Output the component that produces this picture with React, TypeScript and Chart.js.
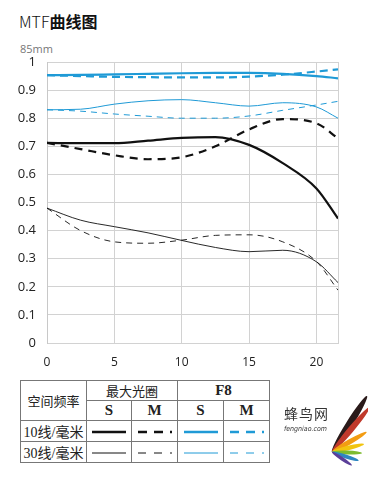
import React, { useEffect, useRef } from "react";
import { Chart, registerables } from "chart.js";

Chart.register(...registerables);

// Image height (mm) positions
const fieldPositions = [0, 2.5, 5, 7.5, 10, 12.5, 15, 17.5, 20, 21.6];

// Max aperture (black)
const maxS10 = [0.712, 0.711, 0.711, 0.72, 0.73, 0.733, 0.705, 0.64, 0.55, 0.443];
const maxM10 = [0.712, 0.69, 0.668, 0.654, 0.661, 0.7, 0.76, 0.797, 0.782, 0.728];
const maxS30 = [0.48, 0.437, 0.414, 0.392, 0.365, 0.34, 0.325, 0.33, 0.289, 0.215];
const maxM30 = [0.48, 0.4, 0.36, 0.355, 0.366, 0.383, 0.385, 0.36, 0.29, 0.188];

// F8 (blue)
const f8S10 = [0.953, 0.954, 0.956, 0.958, 0.96, 0.961, 0.961, 0.958, 0.95, 0.942];
const f8M10 = [0.953, 0.95, 0.947, 0.946, 0.945, 0.945, 0.948, 0.955, 0.966, 0.974];
const f8S30 = [0.83, 0.832, 0.85, 0.862, 0.866, 0.855, 0.843, 0.855, 0.84, 0.8];
const f8M30 = [0.83, 0.825, 0.815, 0.807, 0.8, 0.8, 0.808, 0.828, 0.847, 0.86];

const xTickValues = [0, 5, 10, 15, 20];
const yTickValues = [0, 0.1, 0.2, 0.3, 0.4, 0.5, 0.6, 0.7, 0.8, 0.9, 1];
const yTickLabels = ["0", "0.1", "0.2", "0.3", "0.4", "0.5", "0.6", "0.7", "0.8", "0.9", "1"];
const yMin = 0;
const yMax = 1;
const xMax = 21.6;

const BLACK = "#111111";
const BLUE = "#1f9ad6";

function pts(ys: number[]) {
  return fieldPositions.map((x, i) => ({ x, y: ys[i] }));
}

function MtfChart() {
  const ref = useRef<HTMLCanvasElement | null>(null);
  useEffect(() => {
    if (!ref.current) return;
    const mk = (label: string, data: number[], color: string, width: number, dash: number[]) => ({
      label,
      data: pts(data),
      borderColor: color,
      backgroundColor: color,
      borderWidth: width,
      borderDash: dash,
      pointRadius: 0,
      cubicInterpolationMode: "monotone" as const,
      fill: false,
    });
    const chart = new Chart(ref.current, {
      type: "line",
      data: {
        datasets: [
          mk("F8 M 30", f8M30, BLUE, 1, [6, 5]),
          mk("F8 S 30", f8S30, BLUE, 1, []),
          mk("F8 M 10", f8M10, BLUE, 2.2, [8, 5]),
          mk("F8 S 10", f8S10, BLUE, 2.2, []),
          mk("Max M 30", maxM30, BLACK, 0.9, [6, 5]),
          mk("Max S 30", maxS30, BLACK, 0.9, []),
          mk("Max M 10", maxM10, BLACK, 2.2, [8, 6]),
          mk("Max S 10", maxS10, BLACK, 2.2, []),
        ],
      },
      options: {
        responsive: false,
        animation: false,
        layout: { padding: { left: 0, top: 62, right: 30, bottom: 0 } },
        plugins: { legend: { display: false }, tooltip: { enabled: false }, title: { display: false } },
        scales: {
          x: {
            type: "linear",
            min: 0,
            max: xMax,
            afterFit: (s: any) => {
              s.height = 32;
            },
            afterBuildTicks: (s: any) => {
              s.ticks = [...xTickValues, xMax].map((v) => ({ value: v }));
            },
            ticks: {
              autoSkip: false,
              maxRotation: 0,
              padding: 12,
              color: "#222",
              font: { family: "Open Sans", size: 12 },
              callback: (v: any) => (xTickValues.includes(Number(v)) ? String(v) : ""),
            },
            grid: { color: "#d2d2d2", lineWidth: 1, drawTicks: false },
            border: { display: true, color: "#d2d2d2" },
          },
          y: {
            min: yMin,
            max: yMax,
            afterFit: (s: any) => {
              s.width = 47;
            },
            afterBuildTicks: (s: any) => {
              s.ticks = yTickValues.map((v) => ({ value: v }));
            },
            ticks: {
              autoSkip: false,
              padding: 11,
              color: "#222",
              font: { family: "Open Sans", size: 13 },
              callback: (v: any) => {
                const i = yTickValues.findIndex((t) => Math.abs(t - Number(v)) < 1e-6);
                return i >= 0 ? yTickLabels[i] : "";
              },
            },
            grid: { color: "#d2d2d2", lineWidth: 1, drawTicks: false },
            border: { display: true, color: "#c8c8c8" },
          },
        },
      },
    });
    return () => chart.destroy();
  }, []);
  return (
    <canvas
      ref={ref}
      width={368}
      height={375}
      style={{ position: "absolute", left: 0, top: 0, width: 368, height: 375 }}
    />
  );
}

function Sample({ color, width, dash }: { color: string; width: number; dash?: string }) {
  return (
    <svg width={34} height={6} style={{ display: "block", margin: "2px auto 0" }}>
      <line x1={0} y1={3} x2={34} y2={3} stroke={color} strokeWidth={width} strokeDasharray={dash} />
    </svg>
  );
}

function LegendTable() {
  const cell: React.CSSProperties = {
    border: "1px solid #777",
    padding: 0,
    textAlign: "center",
    verticalAlign: "middle",
    fontFamily: "'Liberation Serif', 'Noto Sans CJK SC', serif",
    fontSize: 13,
    color: "#222",
  };
  const latin: React.CSSProperties = { ...cell, fontSize: 15, fontWeight: 700 };
  return (
    <table
      style={{
        position: "absolute",
        left: 20,
        top: 380,
        width: 249,
        borderCollapse: "collapse",
        tableLayout: "fixed",
      }}
    >
      <colgroup>
        <col style={{ width: 66 }} />
        <col style={{ width: 45 }} />
        <col style={{ width: 46 }} />
        <col style={{ width: 46 }} />
        <col style={{ width: 46 }} />
      </colgroup>
      <tbody>
        <tr style={{ height: 20 }}>
          <td style={cell} rowSpan={2}>空间频率</td>
          <td style={cell} colSpan={2}>最大光圈</td>
          <td style={latin} colSpan={2}>F8</td>
        </tr>
        <tr style={{ height: 20 }}>
          <td style={latin}>S</td>
          <td style={latin}>M</td>
          <td style={latin}>S</td>
          <td style={latin}>M</td>
        </tr>
        <tr style={{ height: 20 }}>
          <td style={{ ...cell, fontSize: 14 }}>10线/毫米</td>
          <td style={cell}><Sample color={BLACK} width={2.5} /></td>
          <td style={cell}><Sample color={BLACK} width={2.5} dash="9 7" /></td>
          <td style={cell}><Sample color={BLUE} width={2.5} /></td>
          <td style={cell}><Sample color={BLUE} width={2.5} dash="9 7" /></td>
        </tr>
        <tr style={{ height: 20 }}>
          <td style={{ ...cell, fontSize: 14 }}>30线/毫米</td>
          <td style={cell}><Sample color={BLACK} width={1} /></td>
          <td style={cell}><Sample color={BLACK} width={1} dash="8 8" /></td>
          <td style={cell}><Sample color={BLUE} width={1} /></td>
          <td style={cell}><Sample color={BLUE} width={1} dash="8 8" /></td>
        </tr>
      </tbody>
    </table>
  );
}

function Logo() {
  const feathers = [
    { color: "#2a1a1a", len: 66, angle: -58, w: 7 },
    { color: "#c0392b", len: 58, angle: -50, w: 6 },
    { color: "#f39c12", len: 40, angle: -30, w: 5 },
    { color: "#f1c40f", len: 33, angle: -14, w: 4.5 },
    { color: "#7dbb2f", len: 30, angle: 2, w: 4 },
    { color: "#2e86c1", len: 28, angle: 18, w: 4 },
    { color: "#5b3f99", len: 24, angle: 34, w: 3.5 },
  ];
  const px = 332;
  const py = 452;
  return (
    <div style={{ position: "absolute", left: 0, top: 0, width: 368, height: 477, pointerEvents: "none" }}>
      <svg width={368} height={477} style={{ position: "absolute", left: 0, top: 0 }}>
        {feathers.map((f, i) => (
          <ellipse
            key={i}
            cx={px + f.len / 2}
            cy={py}
            rx={f.len / 2}
            ry={f.w / 2}
            fill={f.color}
            transform={`rotate(${f.angle} ${px} ${py})`}
          />
        ))}
      </svg>
      <div
        style={{
          position: "absolute",
          left: 284,
          top: 404,
          fontFamily: "'Noto Sans CJK SC', sans-serif",
          fontSize: 14,
          lineHeight: "18px",
          color: "#333",
          letterSpacing: 1,
        }}
      >
        蜂鸟网
      </div>
      <div
        style={{
          position: "absolute",
          left: 284,
          top: 425,
          fontFamily: "'DejaVu Sans Condensed', sans-serif",
          fontSize: 7,
          lineHeight: "9px",
          fontStyle: "italic",
          color: "#333",
        }}
      >
        fengniao.com
      </div>
    </div>
  );
}

export default function App() {
  return (
    <div style={{ position: "absolute", left: 0, top: 0, width: 368, height: 477, background: "#fff", overflow: "hidden" }}>
      <div
        style={{
          position: "absolute",
          left: 19,
          top: 11,
          fontSize: 16,
          lineHeight: "20px",
          color: "#111",
          fontFamily: "'Noto Sans CJK SC', 'Open Sans', sans-serif",
          whiteSpace: "nowrap",
        }}
      >
        <span style={{ fontWeight: 300 }}>MTF</span>
        <span style={{ fontWeight: 700 }}>曲线图</span>
      </div>
      <div
        style={{
          position: "absolute",
          left: 20,
          top: 43,
          fontSize: 11,
          lineHeight: "12px",
          color: "#777",
          fontFamily: "'Open Sans', sans-serif",
        }}
      >
        85mm
      </div>
      <MtfChart />
      <LegendTable />
      <Logo />
    </div>
  );
}
